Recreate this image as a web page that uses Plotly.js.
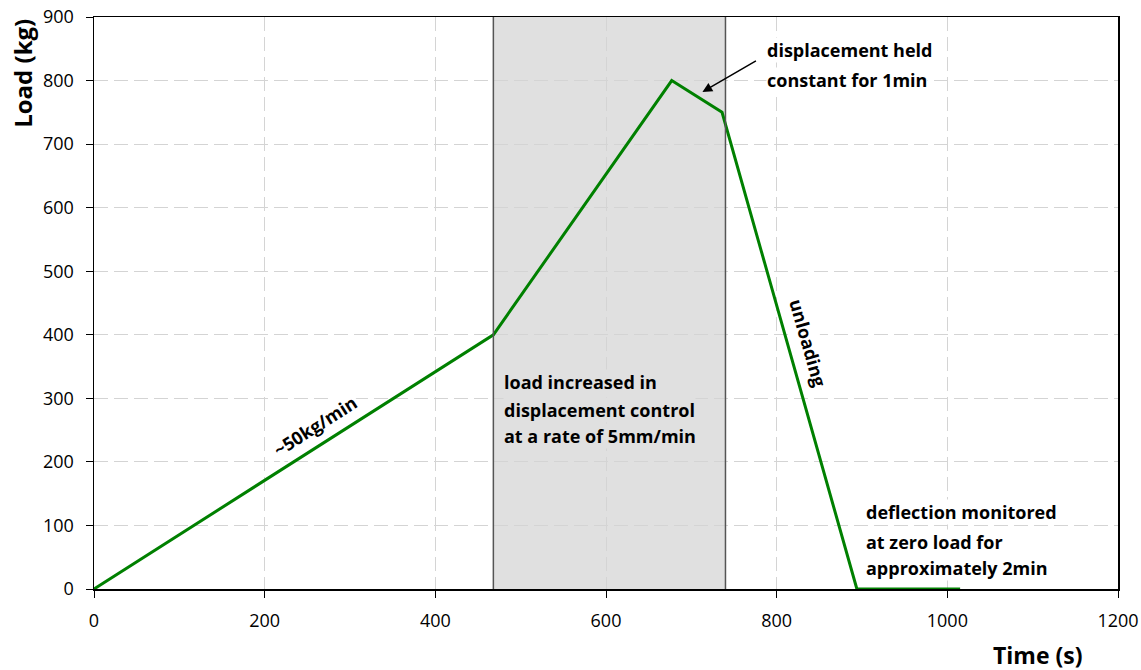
<!DOCTYPE html>
<html><head><meta charset="utf-8">
<script src="https://cdn.plot.ly/plotly-3.0.1.min.js"></script>
<style>html,body{margin:0;padding:0;background:#fff}#chart{width:1141px;height:670px}</style>
</head><body><div id="chart"></div>
<script>
var timeS = [0, 468, 677, 736, 894, 1015];
var loadKg = [0, 400, 800, 750, 0, 0];
var shadeStart = 468, shadeEnd = 740;
var xTicks = [0, 200, 400, 600, 800, 1000, 1200];
var yTicks = [0, 100, 200, 300, 400, 500, 600, 700, 800, 900];

var rampNote = ['load increased in', 'displacement control', 'at a rate of 5mm/min'];
var rampNoteY = [326, 282, 241];
var zeroNote = ['deflection monitored', 'at zero load for', 'approximately 2min'];
var zeroNoteY = [121, 74, 33];
var holdNote = ['displacement held', 'constant for 1min'];
var holdNoteY = [848, 801];

var F = '"Open Sans", sans-serif';
var trace = {x: timeS, y: loadKg, mode: 'lines', line: {color: '#008000', width: 3}, hoverinfo: 'skip'};

function lines(texts, ys, x0, bg) {
  return texts.map(function (t, i) {
    return {xref: 'x', yref: 'y', x: x0, y: ys[i], xanchor: 'left', yanchor: 'middle',
      text: '<b>' + t + '</b>', showarrow: false, bgcolor: bg, borderpad: 0,
      font: {family: F, size: 18}};
  });
}

var annotations = [
  {xref: 'paper', yref: 'paper', x: 0.922, y: -0.116, xanchor: 'center', yanchor: 'middle',
   text: '<b>Time (s)</b>', showarrow: false, font: {family: F, size: 23}},
  {xref: 'paper', yref: 'paper', x: -0.07, y: 1.0, xanchor: 'center', yanchor: 'top',
   text: '<b>Load (kg)</b>', textangle: -90, showarrow: false, font: {family: F, size: 24}},
  {xref: 'x', yref: 'y', x: 259, y: 256, text: '<b>~50kg/min</b>', textangle: -32.5,
   showarrow: false, bgcolor: '#fff', font: {family: F, size: 18}},
  {xref: 'x', yref: 'y', x: 837, y: 387, text: '<b>unloading</b>', textangle: 74,
   showarrow: false, bgcolor: '#fff', font: {family: F, size: 18}},
  {xref: 'x', yref: 'y', x: 713, y: 782, ax: 55, ay: -32, axref: 'pixel', ayref: 'pixel',
   text: '', showarrow: true, arrowhead: 2, arrowsize: 1.3, arrowwidth: 1.5, arrowcolor: '#000', standoff: 0}
].concat(lines(rampNote, rampNoteY, 479, '#e0e0e0'))
 .concat(lines(zeroNote, zeroNoteY, 903, '#fff'))
 .concat(lines(holdNote, holdNoteY, 788, '#fff'));

var layout = {
  width: 1141, height: 670,
  margin: {l: 94, r: 23, t: 17, b: 81},
  paper_bgcolor: '#fff', plot_bgcolor: '#fff',
  showlegend: false,
  font: {family: F, size: 16, color: '#000'},
  xaxis: {range: [0, 1200], tickvals: xTicks, ticktext: xTicks.map(String),
    showgrid: true, gridcolor: '#d4d4d4', griddash: '14px,6px', gridwidth: 1,
    showline: true, linecolor: '#000', linewidth: 1.5, mirror: true,
    ticks: 'outside', ticklen: 7, tickcolor: '#000', zeroline: false,
    ticklabelstandoff: 8, tickfont: {family: F, size: 18}},
  yaxis: {range: [0, 900], tickvals: yTicks, ticktext: yTicks.map(String),
    showgrid: true, gridcolor: '#d4d4d4', griddash: '14px,6px', gridwidth: 1,
    showline: true, linecolor: '#000', linewidth: 1.5, mirror: true,
    ticks: 'outside', ticklen: 7, tickcolor: '#000', zeroline: false,
    ticklabelstandoff: 8, tickfont: {family: F, size: 18}},
  shapes: [
    {type: 'rect', xref: 'x', yref: 'y', x0: shadeStart, x1: shadeEnd, y0: 0, y1: 900,
     fillcolor: '#e0e0e0', line: {width: 0}, layer: 'below'},
    {type: 'line', xref: 'x', yref: 'y', x0: shadeStart, x1: shadeStart, y0: 0, y1: 900, line: {color: '#555', width: 1.5}},
    {type: 'line', xref: 'x', yref: 'y', x0: shadeEnd, x1: shadeEnd, y0: 0, y1: 900, line: {color: '#555', width: 1.5}}
  ],
  annotations: annotations
};
Plotly.newPlot('chart', [trace], layout, {displayModeBar: false, staticPlot: true});
</script></body></html>
